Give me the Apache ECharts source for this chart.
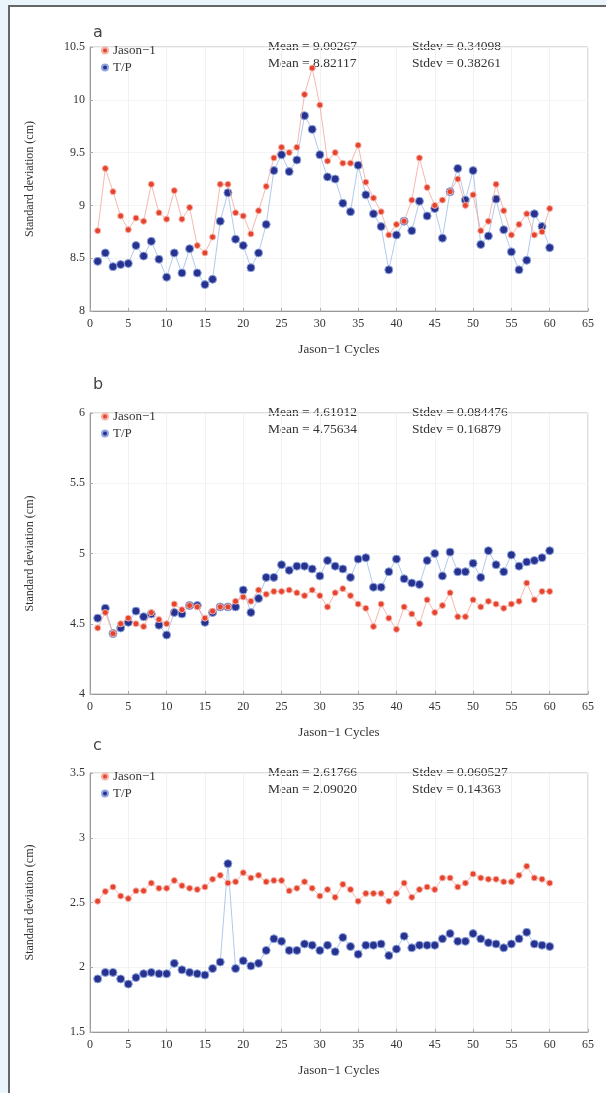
<!DOCTYPE html>
<html>
<head>
<meta charset="utf-8">
<script src="https://cdn.jsdelivr.net/npm/echarts@6/dist/echarts.min.js"></script>
<style>
html,body{margin:0;padding:0;width:606px;height:1093px;background:#eaf5fb;overflow:hidden}
#frame{position:absolute;left:8px;top:5px;width:600px;height:1090px;background:#fff;border-top:2px solid #666;border-left:2px solid #666}
#chart{position:absolute;left:0;top:0;width:606px;height:1093px}
</style>
</head>
<body>
<div id="frame"></div>
<div id="chart"></div>
<script>
// cycle numbers (x)
var cycles = [1,2,3,4,5,6,7,8,9,10,11,12,13,14,15,16,17,18,19,20,
  21,22,23,24,25,26,27,28,29,30,31,32,33,34,35,36,37,38,39,40,
  41,42,43,44,45,46,47,48,49,50,51,52,53,54,55,56,57,58,59,60];

// panel a
var jasonA = [8.76,9.35,9.13,8.9,8.77,8.88,8.85,9.2,8.93,8.87,9.14,8.87,8.98,8.62,8.55,8.7,9.2,9.2,8.93,8.9,
  8.73,8.95,9.18,9.45,9.55,9.5,9.55,10.05,10.3,9.95,9.42,9.5,9.4,9.4,9.57,9.22,9.07,8.94,8.72,8.82,
  8.85,9.05,9.45,9.17,9.0,9.05,9.13,9.25,9.0,9.1,8.76,8.85,9.2,8.95,8.72,8.82,8.92,8.72,8.75,8.97];
var tpA = [8.47,8.55,8.42,8.44,8.45,8.62,8.52,8.66,8.49,8.32,8.55,8.36,8.59,8.36,8.25,8.3,8.85,9.12,8.68,8.62,
  8.41,8.55,8.82,9.33,9.48,9.32,9.43,9.85,9.72,9.48,9.27,9.25,9.02,8.94,9.38,9.1,8.92,8.8,8.39,8.72,
  8.85,8.76,9.04,8.9,8.97,8.69,9.13,9.35,9.05,9.33,8.63,8.71,9.06,8.77,8.56,8.39,8.48,8.92,8.8,8.6];

// panel b
var jasonB = [4.47,4.58,4.43,4.5,4.54,4.5,4.48,4.58,4.53,4.5,4.64,4.6,4.63,4.62,4.54,4.59,4.62,4.62,4.66,4.69,
  4.66,4.74,4.71,4.73,4.73,4.74,4.72,4.7,4.74,4.7,4.62,4.72,4.75,4.7,4.64,4.61,4.48,4.64,4.54,4.46,
  4.62,4.57,4.5,4.67,4.58,4.63,4.72,4.55,4.55,4.67,4.62,4.66,4.64,4.61,4.64,4.66,4.79,4.67,4.73,4.73];
var tpB = [4.54,4.61,4.43,4.47,4.51,4.59,4.55,4.57,4.49,4.42,4.58,4.57,4.63,4.63,4.51,4.58,4.62,4.62,4.62,4.74,
  4.58,4.68,4.83,4.83,4.92,4.88,4.91,4.91,4.89,4.84,4.95,4.91,4.89,4.83,4.96,4.97,4.76,4.76,4.87,4.96,
  4.82,4.79,4.78,4.95,5.0,4.84,5.01,4.87,4.87,4.93,4.83,5.02,4.92,4.87,4.99,4.91,4.94,4.95,4.97,5.02];

// panel c
var jasonC = [2.51,2.585,2.62,2.55,2.53,2.59,2.59,2.65,2.61,2.61,2.67,2.63,2.61,2.6,2.62,2.68,2.71,2.65,2.66,2.73,
  2.69,2.71,2.66,2.67,2.67,2.59,2.61,2.66,2.61,2.55,2.6,2.54,2.64,2.6,2.51,2.57,2.57,2.57,2.51,2.57,
  2.65,2.54,2.6,2.62,2.6,2.69,2.69,2.62,2.65,2.72,2.69,2.68,2.68,2.66,2.66,2.71,2.78,2.69,2.68,2.65];
var tpC = [1.91,1.96,1.96,1.91,1.87,1.92,1.95,1.96,1.95,1.95,2.03,1.98,1.96,1.95,1.94,1.99,2.04,2.8,1.99,2.05,
  2.01,2.03,2.13,2.22,2.2,2.13,2.13,2.18,2.17,2.13,2.17,2.12,2.23,2.16,2.1,2.17,2.17,2.18,2.09,2.14,
  2.24,2.15,2.17,2.17,2.17,2.22,2.26,2.2,2.2,2.26,2.22,2.19,2.18,2.15,2.18,2.22,2.27,2.18,2.17,2.16];

var panelLetters = ['a', 'b', 'c'];
var yMins = [8, 4, 1.5];
var yMaxs = [10.5, 6, 3.5];
var jasonStats = [['Mean = 9.00267', 'Stdev = 0.34098'], ['Mean = 4.61012', 'Stdev = 0.084476'], ['Mean = 2.61766', 'Stdev = 0.060527']];
var tpStats = [['Mean = 8.82117', 'Stdev = 0.38261'], ['Mean = 4.75634', 'Stdev = 0.16879'], ['Mean = 2.09020', 'Stdev = 0.14363']];
var jasonSets = [jasonA, jasonB, jasonC];
var tpSets = [tpA, tpB, tpC];

var serif = 'Liberation Serif';
var RED = '#e5432e';
var BLUE = '#27318f';

// layout of the three panels
var tops = [47, 413, 773];
var heights = [264, 281, 259];
var letterTops = [25, 377, 738];
var gridLeft = 90, gridRight = 18;

function pairs(vals) {
  return cycles.map(function (c, i) { return [c, vals[i]]; });
}

var grids = [], xAxes = [], yAxes = [], series = [], legends = [], graphics = [];

for (var p = 0; p < 3; p++) {
  grids.push({
    left: gridLeft, right: gridRight, top: tops[p], height: heights[p],
    show: true, borderColor: '#bdbdbd', borderWidth: 1, backgroundColor: 'transparent'
  });
  xAxes.push({
    type: 'value', gridIndex: p, min: 0, max: 65, interval: 5,
    name: 'Jason\u22121 Cycles', nameLocation: 'middle', nameGap: 32,
    nameTextStyle: {fontFamily: serif, fontSize: 13, color: '#333'},
    axisLine: {show: true, lineStyle: {color: '#999'}},
    axisTick: {show: true, inside: true, length: 3, lineStyle: {color: '#aaa'}},
    axisLabel: {fontFamily: serif, fontSize: 12, color: '#333', margin: 7},
    splitLine: {show: true, lineStyle: {color: '#f1f1f1'}}
  });
  yAxes.push({
    type: 'value', gridIndex: p, min: yMins[p], max: yMaxs[p], interval: 0.5,
    name: 'Standard deviation (cm)', nameLocation: 'middle', nameGap: 54,
    nameTextStyle: {fontFamily: serif, fontSize: 12, color: '#333'},
    axisLine: {show: true, lineStyle: {color: '#999'}},
    axisTick: {show: true, inside: true, length: 3, lineStyle: {color: '#aaa'}},
    axisLabel: {fontFamily: serif, fontSize: 12, color: '#333', margin: 5},
    splitLine: {show: true, lineStyle: {color: '#f3f3f3'}}
  });
  series.push({
    name: 'Jason\u22121', type: 'line', xAxisIndex: p, yAxisIndex: p,
    data: pairs(jasonSets[p]), symbol: 'circle', symbolSize: 6,
    lineStyle: {color: '#f2a69a', width: 0.8},
    itemStyle: {color: RED, borderColor: '#f5b3a8', borderWidth: 1},
    z: 3
  });
  series.push({
    name: 'T/P', type: 'line', xAxisIndex: p, yAxisIndex: p,
    data: pairs(tpSets[p]), symbol: 'circle', symbolSize: 8,
    lineStyle: {color: '#9cbbe6', width: 0.8},
    itemStyle: {color: BLUE, borderColor: '#8fa6dc', borderWidth: 1},
    z: 2
  });
  legends.push({
    orient: 'vertical', left: 96, top: tops[p] - 8, itemGap: 4,
    icon: 'circle', itemWidth: 6, itemHeight: 6,
    textStyle: {fontFamily: serif, fontSize: 13, color: '#333'},
    data: ['Jason\u22121', 'T/P']
  });
  graphics.push({
    type: 'text', left: 93, top: letterTops[p],
    style: {text: panelLetters[p], font: '16px "DejaVu Sans"', fill: '#444'}
  });
  var rows = [jasonStats[p], tpStats[p]];
  for (var r = 0; r < 2; r++) {
    graphics.push({
      type: 'text', left: 268, top: tops[p] - 8 + r * 17,
      style: {text: rows[r][0], font: '13.5px "' + serif + '"', fill: '#333'}
    });
    graphics.push({
      type: 'text', left: 412, top: tops[p] - 8 + r * 17,
      style: {text: rows[r][1], font: '13.5px "' + serif + '"', fill: '#333'}
    });
  }
}

var chart = echarts.init(document.getElementById('chart'));
chart.setOption({
  animation: false,
  grid: grids,
  xAxis: xAxes,
  yAxis: yAxes,
  legend: legends,
  graphic: graphics,
  series: series
});
</script>
</body>
</html>
